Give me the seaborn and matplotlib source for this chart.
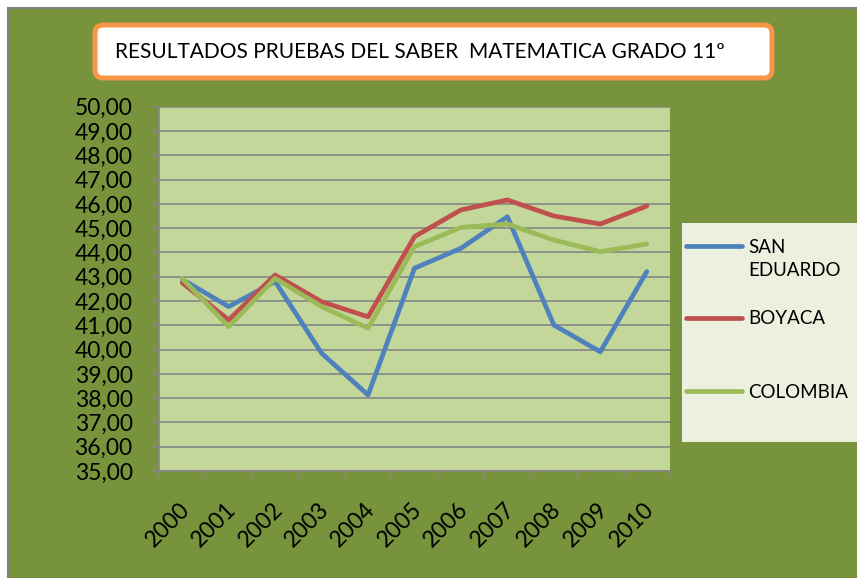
"""Resultados pruebas del saber - matematica grado 11"""

import numpy as np
import pandas as pd
import matplotlib
matplotlib.use("Agg")
import matplotlib.pyplot as plt
from matplotlib.patches import Rectangle, FancyBboxPatch
from matplotlib.ticker import FuncFormatter, MultipleLocator
from matplotlib.transforms import ScaledTranslation
import seaborn as sns

sns.set_style("white")
plt.rcParams['font.family'] = ['Lato', 'DejaVu Sans']
plt.rcParams['text.color'] = 'black'
plt.rcParams['xtick.labelcolor'] = 'black'
plt.rcParams['ytick.labelcolor'] = 'black'

years = ["2000", "2001", "2002", "2003", "2004", "2005",
         "2006", "2007", "2008", "2009", "2010"]
san_eduardo = [42.89, 41.77, 42.80, 39.85, 38.13, 43.35, 44.17, 45.47, 41.01, 39.91, 43.21]
boyaca = [42.75, 41.22, 43.07, 41.97, 41.35, 44.65, 45.75, 46.16, 45.50, 45.17, 45.91]
colombia = [42.93, 40.94, 42.93, 41.77, 40.88, 44.24, 45.03, 45.17, 44.51, 44.03, 44.35]
series_names = ["SAN\nEDUARDO", "BOYACA", "COLOMBIA"]
title = "RESULTADOS PRUEBAS DEL SABER  MATEMATICA GRADO 11º"

df = pd.DataFrame({'year': years * 3,
                   'valor': san_eduardo + boyaca + colombia,
                   'serie': np.repeat(series_names, len(years))})

W, H = 857, 578
fig = plt.figure(figsize=(W / 100, H / 100), dpi=100, facecolor='white')

# chart area (olive background with grey border)
fig.patches.append(Rectangle((8 / 100, -0.2), 9.0, (H - 8) / 100 + 0.2,
                             transform=fig.dpi_scale_trans, facecolor='#77933C',
                             edgecolor='#7F7F7F', linewidth=1.5, zorder=-2))

ax = fig.add_axes([159 / W, 1 - 471 / H, (670 - 159) / W, (471 - 106.7) / H])
ax.set_zorder(1)
ax.set_facecolor('#C4D79B')

sns.lineplot(data=df, x='year', y='valor', hue='serie', sort=False, ax=ax,
             palette={'SAN\nEDUARDO': '#4F81BD', 'BOYACA': '#C0504D', 'COLOMBIA': '#9BBB59'},
             linewidth=3.4, solid_capstyle='round', solid_joinstyle='round')

ax.set_xlim(-0.5, 10.5)
ax.set_ylim(35, 50)
ax.yaxis.set_major_locator(MultipleLocator(1))
ax.yaxis.set_major_formatter(FuncFormatter(lambda v, p: f"{v:.2f}".replace(".", ",")))
ax.grid(axis='y', color='#868686', linewidth=1.2)
ax.set_axisbelow(True)
for s in ['top', 'right']:
    ax.spines[s].set_visible(False)
for s in ['left', 'bottom']:
    ax.spines[s].set_color('#868686')
    ax.spines[s].set_linewidth(1.2)

ax.tick_params(axis='y', direction='out', length=5, width=1.2, color='#868686',
               labelsize=16.5, pad=14, left=True)
ax.tick_params(axis='x', which='major', length=0, labelsize=16.5, pad=25)
ax.set_xticks(np.arange(-0.5, 11, 1), minor=True)
ax.tick_params(axis='x', which='minor', direction='out', length=5, width=1.2,
               color='#868686', bottom=True)
shift = ScaledTranslation(4 / 100, 0, fig.dpi_scale_trans)
for lbl in ax.get_xticklabels():
    lbl.set_rotation(45)
    lbl.set_ha('right')
    lbl.set_va('center')
    lbl.set_rotation_mode('anchor')
    lbl.set_transform(lbl.get_transform() + shift)
ax.set_xlabel('')
ax.set_ylabel('')

# legend box, one entry per legend so rows sit where Excel put them
fig.patches.append(Rectangle((682 / W, 1 - 442 / H), (860 - 682) / W, (442 - 222.7) / H,
                             transform=fig.transFigure, facecolor='#EBF1DE',
                             edgecolor='none', zorder=-1))
handles, labels = ax.get_legend_handles_labels()
ax.get_legend().remove()
for h, l, ypix in zip(handles, labels, [259, 319, 392]):
    leg = fig.legend([h], [l], loc='center left', bbox_to_anchor=(686 / W, 1 - ypix / H),
                     frameon=False, fontsize=13.5, handlelength=3.0, handletextpad=0.3,
                     borderpad=0, borderaxespad=0)
    leg.set_zorder(2)
    for t in leg.get_texts():
        t.set_linespacing(1.38)
    if '\n' in l:
        # keep the marker on the first text line
        hl = leg.legend_handles[0]
        hl.set_ydata(np.asarray(hl.get_ydata()) + 9.4)

# title box
fig.patches.append(FancyBboxPatch((95 / 100, (H - 78) / 100), (772 - 95) / 100, 53 / 100,
                                  boxstyle='round,pad=0,rounding_size=0.08',
                                  transform=fig.dpi_scale_trans, facecolor='white',
                                  edgecolor='#F79646', linewidth=3.6, zorder=0))
fig.text(115 / W, 1 - 52 / H, title, ha='left', va='center', fontsize=15, color='black')

fig.savefig('out.png', dpi=100, facecolor='white')
